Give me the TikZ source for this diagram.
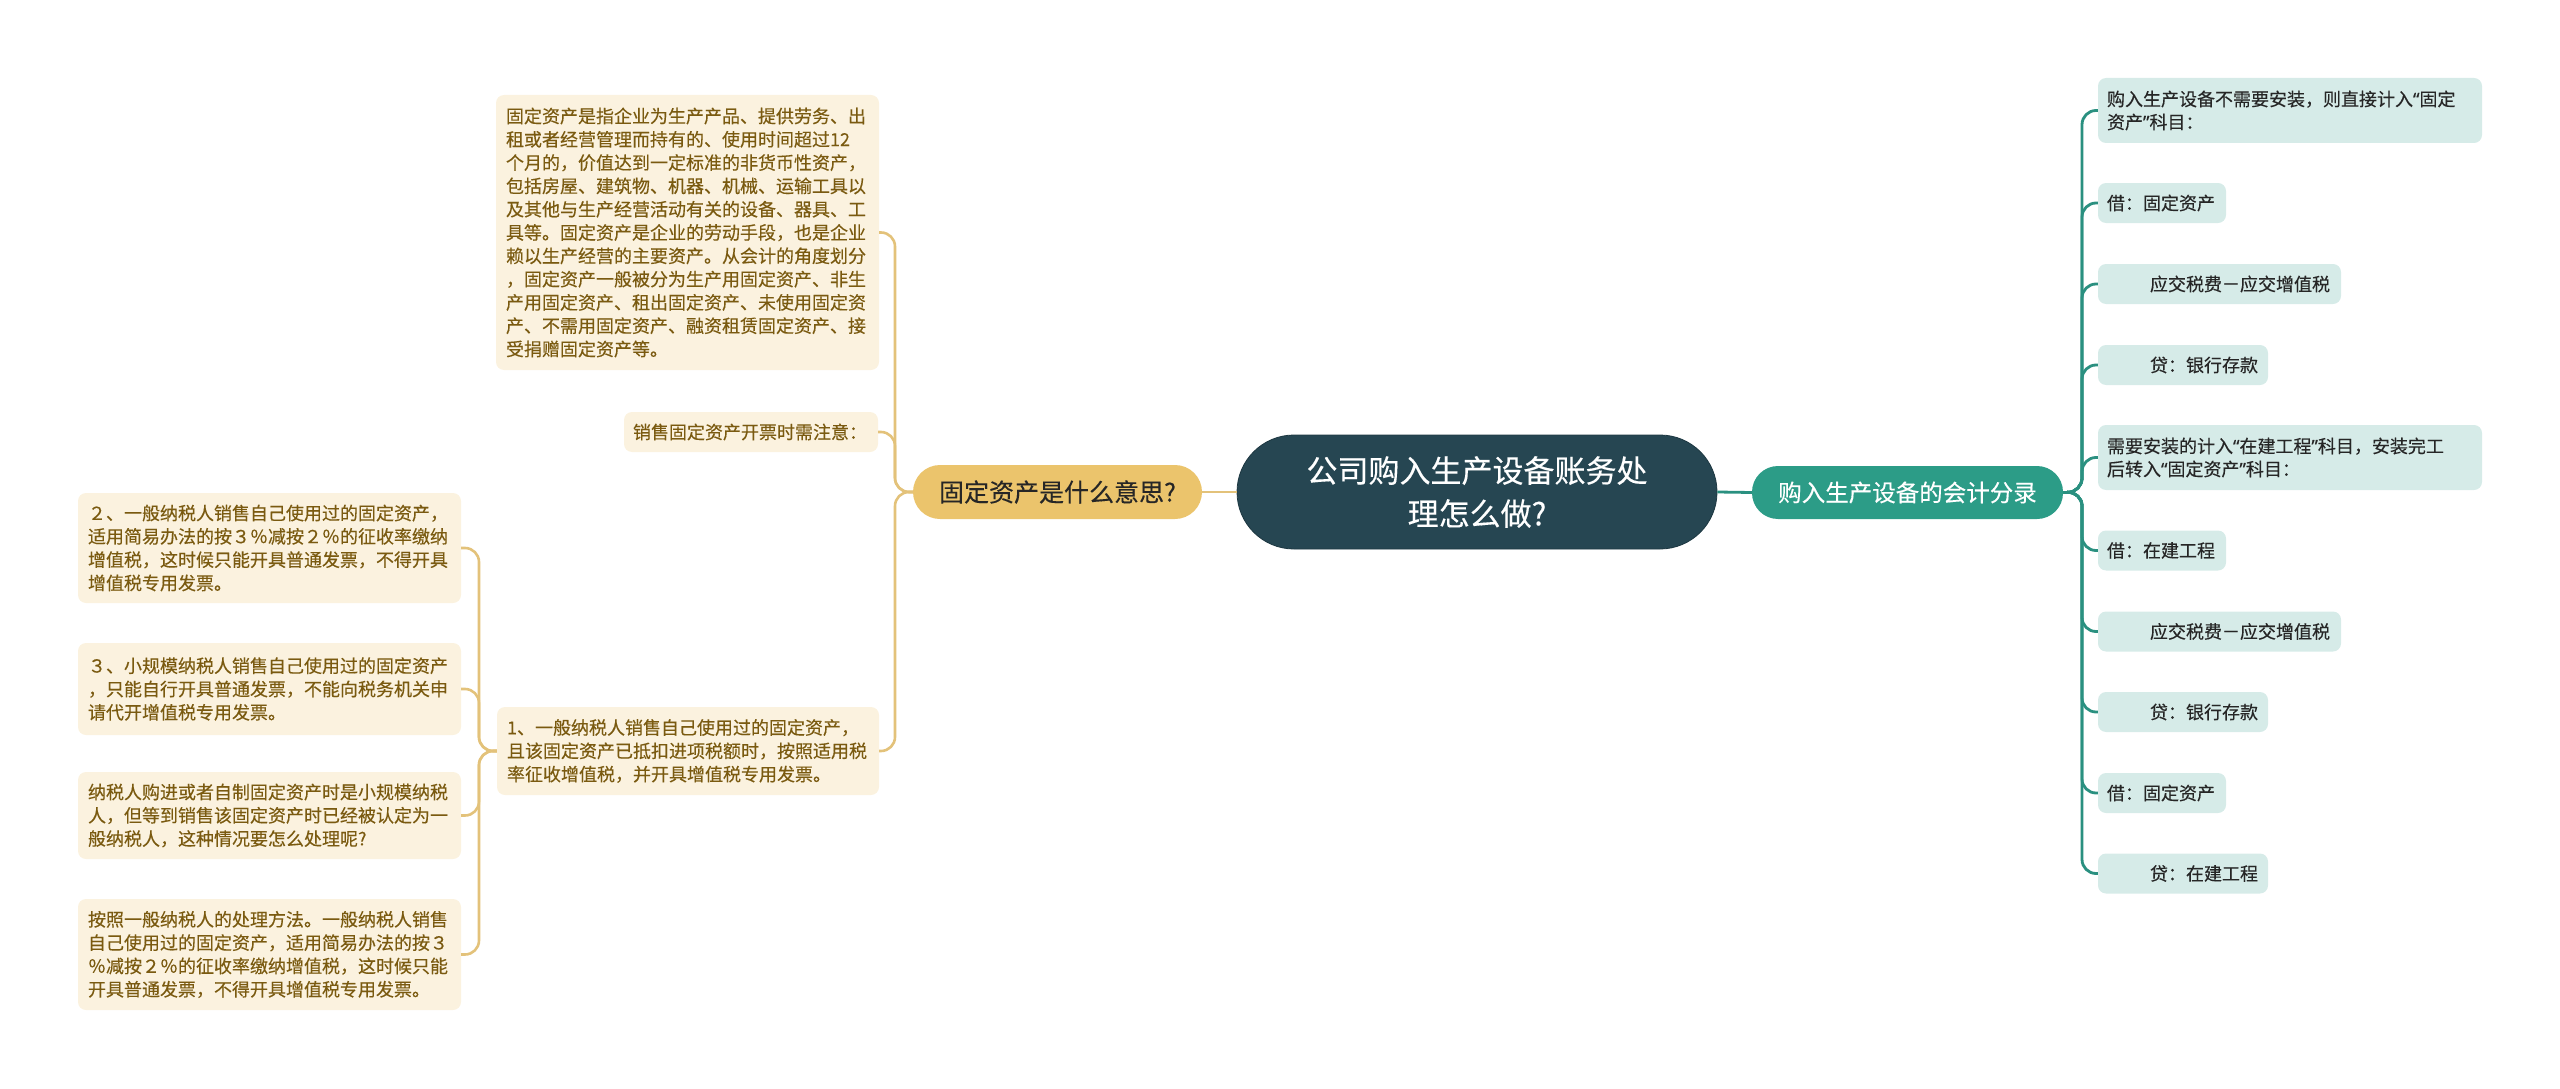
\documentclass[tikz,border=0pt]{standalone}
\usepackage{fontspec}
\setmainfont{Noto Sans CJK SC}[FakeBold=0.3]
\newfontfamily\qf{Noto Sans}[FakeBold=0.3]
\newcommand{\myLQ}{{\qf “}}
\newcommand{\myRQ}{{\qf ”}}
\definecolor{cream}{HTML}{FBF2DF}
\definecolor{browntxt}{HTML}{7A5A10}
\definecolor{goldline}{HTML}{E3C27A}
\definecolor{goldnode}{HTML}{EBC46C}
\definecolor{darknode}{HTML}{264652}
\definecolor{tealnode}{HTML}{2C9C87}
\definecolor{tealline}{HTML}{2A9080}
\definecolor{tealbox}{HTML}{D6EBE8}
\definecolor{darktxt}{HTML}{262626}
\tikzset{
  cbox/.style={fill=cream, rounded corners=8pt, text=browntxt, font=\fontsize{18}{23.3}\selectfont, align=left, inner xsep=10pt, inner ysep=0pt, anchor=center},
  tbox/.style={fill=tealbox, rounded corners=8pt, text=darktxt, font=\fontsize{18}{23}\selectfont, align=left, inner xsep=9pt, inner ysep=0pt, anchor=center},
  gline/.style={draw=goldline, line width=2.6pt},
  tline/.style={draw=tealline, line width=2.8pt},
}
\begin{document}
\begin{tikzpicture}[x=1pt,y=-1pt]
\useasboundingbox (0,0) rectangle (2560,1089);
% central node
\node[fill=darknode, draw=darknode!80!black, line width=0.8pt, rounded corners=57pt, minimum width=480pt, minimum height=114pt, text=white, align=center, font=\fontsize{31}{43}\selectfont, inner sep=0pt] (C) at (1477,492) {公司购入生产设备账务处\\理怎么做?};
% level 1
\node[fill=goldnode, rounded corners=27pt, minimum width=289pt, minimum height=54pt, text=darktxt, font=\fontsize{25}{30}\selectfont, inner sep=0pt] (L) at (1057.5,492) {固定资产是什么意思?};
\node[fill=tealnode, rounded corners=26pt, minimum width=311pt, minimum height=53pt, text=white, font=\fontsize{23.5}{28}\selectfont, inner sep=0pt] (R) at (1907.5,492.5) {购入生产设备的会计分录};
% left children
\node[cbox, text width=363pt, minimum height=275pt] (big) at (687.5,232.5) {固定资产是指企业为生产产品、提供劳务、出\\租或者经营管理而持有的、使用时间超过12\\个月的，价值达到一定标准的非货币性资产，\\包括房屋、建筑物、机器、机械、运输工具以\\及其他与生产经营活动有关的设备、器具、工\\具等。固定资产是企业的劳动手段，也是企业\\赖以生产经营的主要资产。从会计的角度划分\\，固定资产一般被分为生产用固定资产、非生\\产用固定资产、租出固定资产、未使用固定资\\产、不需用固定资产、融资租赁固定资产、接\\受捐赠固定资产等。};
\node[cbox, inner xsep=9pt, text width=236pt, minimum height=40pt] (sale) at (751,432) {销售固定资产开票时需注意：};
\node[cbox, text width=362pt, minimum height=88pt] (one) at (688,751) {1、一般纳税人销售自己使用过的固定资产，\\且该固定资产已抵扣进项税额时，按照适用税\\率征收增值税，并开具增值税专用发票。};
\node[cbox, text width=363pt, minimum height=110pt] (b2) at (269.5,548) {２、一般纳税人销售自己使用过的固定资产，\\适用简易办法的按３％减按２％的征收率缴纳\\增值税，这时候只能开具普通发票，不得开具\\增值税专用发票。};
\node[cbox, text width=363pt, minimum height=92pt] (b3) at (269.5,689) {３、小规模纳税人销售自己使用过的固定资产\\，只能自行开具普通发票，不能向税务机关申\\请代开增值税专用发票。};
\node[cbox, text width=363pt, minimum height=87pt] (b4) at (269.5,815.5) {纳税人购进或者自制固定资产时是小规模纳税\\人，但等到销售该固定资产时已经被认定为一\\般纳税人，这种情况要怎么处理呢?};
\node[cbox, text width=363pt, minimum height=111pt] (b5) at (269.5,954.5) {按照一般纳税人的处理方法。一般纳税人销售\\自己使用过的固定资产，适用简易办法的按３\\％减按２％的征收率缴纳增值税，这时候只能\\开具普通发票，不得开具增值税专用发票。};
% right children
\node[tbox, text width=366pt, minimum height=65pt] (ra) at (2290,110.5) {购入生产设备不需要安装，则直接计入\myLQ 固定\\资产\myRQ 科目：};
\node[tbox, text width=110pt, minimum height=40pt] (rb) at (2162,203) {借：固定资产};
\node[tbox, text width=225pt, minimum height=40pt] (rc) at (2219.5,284) {\hspace*{43pt}应交税费－应交增值税};
\node[tbox, text width=152pt, minimum height=40pt] (rd) at (2183,365) {\hspace*{43pt}贷：银行存款};
\node[tbox, text width=366pt, minimum height=65pt] (re) at (2290,457.5) {需要安装的计入\myLQ 在建工程\myRQ 科目，安装完工\\后转入\myLQ 固定资产\myRQ 科目：};
\node[tbox, text width=110pt, minimum height=40pt] (rf) at (2162,550.5) {借：在建工程};
\node[tbox, text width=225pt, minimum height=40pt] (rg) at (2219.5,631.5) {\hspace*{43pt}应交税费－应交增值税};
\node[tbox, text width=152pt, minimum height=40pt] (rh) at (2183,712) {\hspace*{43pt}贷：银行存款};
\node[tbox, text width=110pt, minimum height=40pt] (ri) at (2162,793) {借：固定资产};
\node[tbox, text width=152pt, minimum height=40pt] (rj) at (2183,873.5) {\hspace*{43pt}贷：在建工程};
% trunk points
\coordinate (LT) at (895,492);
\coordinate (LT2) at (479,751);
\coordinate (RT) at (2082,492);
% connectors
\draw[gline] (C.west) -- (L.east);
\draw[tline] (C.east) -- (R.west);
\foreach \n in {big,sale,one}{
  \draw[gline, rounded corners=14pt] (L.west) -- (LT) |- (\n.east);
}
\foreach \n in {b2,b3,b4,b5}{
  \draw[gline, rounded corners=14pt] (one.west) -- (LT2) |- (\n.east);
}
\foreach \n in {ra,rb,rc,rd,re,rf,rg,rh,ri,rj}{
  \draw[tline, rounded corners=14pt] (R.east) -- (RT) |- (\n.west);
}
\end{tikzpicture}
\end{document}
